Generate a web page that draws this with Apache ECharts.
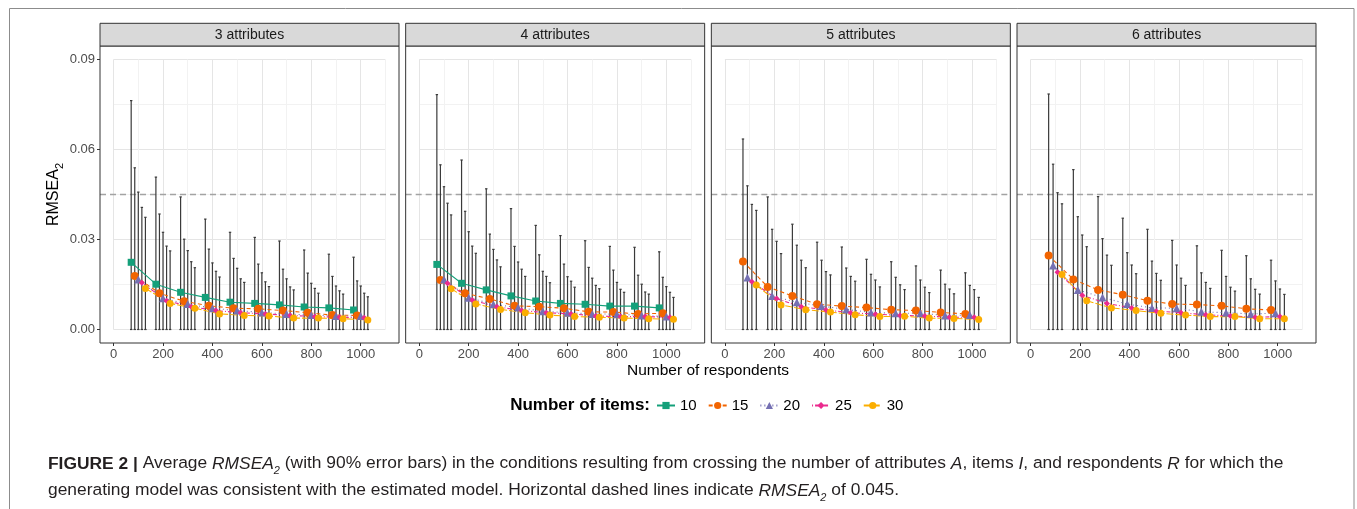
<!DOCTYPE html>
<html><head><meta charset="utf-8">
<script src="https://cdn.jsdelivr.net/npm/echarts@6/dist/echarts.min.js"></script>
<style>html,body{margin:0;padding:0;background:#fff}#c{width:1357px;height:509px}</style>
</head><body><div id="c"></div>
<script>
// ---------------- DATA ----------------
const panelTitles = ['3 attributes', '4 attributes', '5 attributes', '6 attributes'];
const respondents = [100, 200, 300, 400, 500, 600, 700, 800, 900, 1000];
const itemLevels = ['10', '15', '20', '25', '30'];
const xTickLabels = [0, 200, 400, 600, 800, 1000];
const yTickLabels = [0, 0.03, 0.06, 0.09];
const cutoffRMSEA = 0.045;
const lowerBound = 0;

const itemsA3 = ['10', '15', '20', '25', '30'];
const itemsA4 = ['10', '15', '20', '25', '30'];
const itemsA5 = ['15', '20', '25', '30'];
const itemsA6 = ['15', '20', '25', '30'];

// A = 3
const A3_I10_mean  = [0.0224, 0.0151, 0.0124, 0.0107, 0.0091, 0.0087, 0.0082, 0.0075, 0.0072, 0.0065];
const A3_I10_upper = [0.0763, 0.0508, 0.0442, 0.0368, 0.0324, 0.0307, 0.0295, 0.0265, 0.0251, 0.0241];
const A3_I15_mean  = [0.0178, 0.0121, 0.0094, 0.0079, 0.0071, 0.0069, 0.0063, 0.0056, 0.0048, 0.0047];
const A3_I15_upper = [0.0539, 0.0385, 0.0301, 0.0268, 0.0237, 0.0218, 0.0201, 0.0188, 0.0177, 0.0162];
const A3_I20_mean  = [0.0167, 0.0104, 0.0085, 0.0071, 0.0063, 0.0057, 0.0052, 0.0048, 0.0045, 0.0045];
const A3_I20_upper = [0.0458, 0.0324, 0.0263, 0.0222, 0.0204, 0.0189, 0.0169, 0.0154, 0.0145, 0.0145];
const A3_I25_mean  = [0.0156, 0.0096, 0.0076, 0.0063, 0.0056, 0.0052, 0.0047, 0.0043, 0.0041, 0.0039];
const A3_I25_upper = [0.0407, 0.0278, 0.0226, 0.0194, 0.0169, 0.0159, 0.0142, 0.0137, 0.0129, 0.0121];
const A3_I30_mean  = [0.0137, 0.0087, 0.0071, 0.0052, 0.0047, 0.0045, 0.0038, 0.0038, 0.0036, 0.0032];
const A3_I30_upper = [0.0374, 0.0262, 0.0206, 0.0175, 0.0157, 0.0143, 0.0132, 0.0121, 0.0118, 0.0109];

// A = 4
const A4_I10_mean  = [0.0217, 0.0154, 0.0132, 0.0112, 0.0095, 0.0087, 0.0084, 0.0078, 0.0078, 0.0072];
const A4_I10_upper = [0.0783, 0.0565, 0.0469, 0.0403, 0.0347, 0.0313, 0.0296, 0.0277, 0.0274, 0.0259];
const A4_I15_mean  = [0.0165, 0.0121, 0.0102, 0.0079, 0.0076, 0.0071, 0.0059, 0.0058, 0.0052, 0.0054];
const A4_I15_upper = [0.0549, 0.0394, 0.0318, 0.0277, 0.0249, 0.0218, 0.0207, 0.0198, 0.0181, 0.0174];
const A4_I20_mean  = [0.0167, 0.0106, 0.0084, 0.0073, 0.0061, 0.0056, 0.0052, 0.0051, 0.0047, 0.0043];
const A4_I20_upper = [0.0476, 0.0326, 0.0267, 0.0225, 0.0194, 0.0176, 0.0171, 0.0157, 0.0151, 0.0143];
const A4_I25_mean  = [0.0154, 0.0098, 0.0076, 0.0063, 0.0056, 0.0052, 0.0045, 0.0043, 0.0043, 0.0041];
const A4_I25_upper = [0.0421, 0.0278, 0.0232, 0.0201, 0.0177, 0.0161, 0.0147, 0.0134, 0.0125, 0.0124];
const A4_I30_mean  = [0.0136, 0.0085, 0.0067, 0.0056, 0.0048, 0.0043, 0.0041, 0.0038, 0.0036, 0.0034];
const A4_I30_upper = [0.0382, 0.0254, 0.0209, 0.0177, 0.0156, 0.0141, 0.0136, 0.0124, 0.0118, 0.0107];

// A = 5
const A5_I15_mean  = [0.0227, 0.0142, 0.0112, 0.0084, 0.0078, 0.0073, 0.0066, 0.0063, 0.0057, 0.0052];
const A5_I15_upper = [0.0635, 0.0442, 0.0351, 0.0291, 0.0275, 0.0234, 0.0226, 0.0212, 0.0198, 0.0189];
const A5_I20_mean  = [0.0173, 0.0112, 0.0091, 0.0078, 0.0067, 0.0057, 0.0054, 0.0054, 0.0047, 0.0048];
const A5_I20_upper = [0.0479, 0.0334, 0.0281, 0.0231, 0.0205, 0.0184, 0.0174, 0.0165, 0.0151, 0.0147];
const A5_I25_mean  = [0.0159, 0.0103, 0.0076, 0.0065, 0.0056, 0.0051, 0.0047, 0.0045, 0.0041, 0.0041];
const A5_I25_upper = [0.0417, 0.0294, 0.0231, 0.0193, 0.0177, 0.0165, 0.0149, 0.0141, 0.0135, 0.0133];
const A5_I30_mean  = [0.0148, 0.0082, 0.0066, 0.0058, 0.0049, 0.0043, 0.0044, 0.0038, 0.0037, 0.0033];
const A5_I30_upper = [0.0397, 0.0253, 0.0206, 0.0182, 0.0161, 0.0142, 0.0133, 0.0123, 0.0119, 0.0107];

// A = 6
const A6_I15_mean  = [0.0247, 0.0167, 0.0132, 0.0116, 0.0096, 0.0085, 0.0083, 0.0079, 0.0069, 0.0065];
const A6_I15_upper = [0.0785, 0.0533, 0.0443, 0.0371, 0.0334, 0.0297, 0.0279, 0.0264, 0.0246, 0.0231];
const A6_I20_mean  = [0.0213, 0.0132, 0.0107, 0.0085, 0.0072, 0.0071, 0.0059, 0.0056, 0.0052, 0.0054];
const A6_I20_upper = [0.0551, 0.0376, 0.0303, 0.0256, 0.0228, 0.0215, 0.0189, 0.0177, 0.0169, 0.0162];
const A6_I25_mean  = [0.0191, 0.0114, 0.0087, 0.0072, 0.0061, 0.0056, 0.0049, 0.0045, 0.0041, 0.0043];
const A6_I25_upper = [0.0456, 0.0315, 0.0248, 0.0215, 0.0187, 0.0171, 0.0157, 0.0141, 0.0134, 0.0135];
const A6_I30_mean  = [0.0183, 0.0096, 0.0072, 0.0063, 0.0054, 0.0048, 0.0043, 0.0043, 0.0036, 0.0036];
const A6_I30_upper = [0.0419, 0.0276, 0.0214, 0.0186, 0.0164, 0.0147, 0.0137, 0.0128, 0.0118, 0.0117];

// ---------------- STYLE ----------------
const itemColors  = {'10': '#14a07a', '15': '#f26400', '20': '#7570b3', '25': '#eb2a8e', '30': '#fbae00'};
const itemSymbols = {'10': 'rect', '15': 'circle', '20': 'triangle', '25': 'diamond', '30': 'circle'};
const itemSymSize = {'10': 7, '15': 8, '20': 8, '25': 6, '30': 7};
const itemDash    = {'10': 'solid', '15': [4, 3], '20': [1, 3], '25': [1, 2, 4, 2], '30': [7, 2]};

const panels = [
  {title: panelTitles[0], items: itemsA3, mean: [A3_I10_mean, A3_I15_mean, A3_I20_mean, A3_I25_mean, A3_I30_mean], upper: [A3_I10_upper, A3_I15_upper, A3_I20_upper, A3_I25_upper, A3_I30_upper]},
  {title: panelTitles[1], items: itemsA4, mean: [A4_I10_mean, A4_I15_mean, A4_I20_mean, A4_I25_mean, A4_I30_mean], upper: [A4_I10_upper, A4_I15_upper, A4_I20_upper, A4_I25_upper, A4_I30_upper]},
  {title: panelTitles[2], items: itemsA5, mean: [A5_I15_mean, A5_I20_mean, A5_I25_mean, A5_I30_mean], upper: [A5_I15_upper, A5_I20_upper, A5_I25_upper, A5_I30_upper]},
  {title: panelTitles[3], items: itemsA6, mean: [A6_I15_mean, A6_I20_mean, A6_I25_mean, A6_I30_mean], upper: [A6_I15_upper, A6_I20_upper, A6_I25_upper, A6_I30_upper]}
];

// layout (ggplot-like facets, 5% expansion)
const PANEL_LEFT0 = 100, PANEL_STEP = 305.67, PANEL_W = 299;
const PANEL_TOP = 46, PANEL_H = 297, STRIP_TOP = 23.3;
const X_MIN = 0, X_MAX = 1100, X_STEP = 100, X_EXP = 55;
const Y_MIN = 0, Y_MAX = 0.09, Y_STEP = 0.015, Y_EXP = 0.0045;
const DODGE = 72;
const pxX = PANEL_W / (X_MAX - X_MIN + 2 * X_EXP);
const pxY = PANEL_H / (Y_MAX - Y_MIN + 2 * Y_EXP);
const FONT = 'Liberation Sans, Arial, Helvetica, sans-serif';

const grids = [], xAxes = [], yAxes = [], series = [], graphics = [];

panels.forEach((p, pi) => {
  const pl = PANEL_LEFT0 + pi * PANEL_STEP;
  const gFull = 2 * pi, gInner = 2 * pi + 1;
  // full panel (expanded range): data, ticks, labels
  grids.push({left: pl, top: PANEL_TOP, width: PANEL_W, height: PANEL_H, containLabel: false});
  // inner range: grid lines only
  grids.push({left: pl + X_EXP * pxX, top: PANEL_TOP + Y_EXP * pxY,
              width: (X_MAX - X_MIN) * pxX, height: (Y_MAX - Y_MIN) * pxY, containLabel: false});

  xAxes.push({
    type: 'value', gridIndex: gFull, min: X_MIN - X_EXP, max: X_MAX + X_EXP, position: 'bottom',
    axisLine: {show: false, onZero: false},
    axisTick: {show: true, length: 3, customValues: xTickLabels, lineStyle: {color: '#333', width: 1}},
    axisLabel: {show: true, customValues: xTickLabels, margin: 5, color: '#4d4d4d', fontSize: 13, fontFamily: FONT,
                formatter: v => String(Math.round(v))},
    splitLine: {show: false}
  });
  xAxes.push({
    type: 'value', gridIndex: gInner, min: X_MIN, max: X_MAX, interval: X_STEP,
    axisLine: {show: false, onZero: false}, axisTick: {show: false}, axisLabel: {show: false},
    splitLine: {show: true, lineStyle: {color: ['#e5e5e5', '#f2f2f2'], width: 1}}
  });
  yAxes.push({
    type: 'value', gridIndex: gFull, min: Y_MIN - Y_EXP, max: Y_MAX + Y_EXP, position: 'left',
    axisLine: {show: false, onZero: false},
    axisTick: {show: pi === 0, length: 3, customValues: yTickLabels, lineStyle: {color: '#333', width: 1}},
    axisLabel: {show: pi === 0, customValues: yTickLabels, margin: 5, color: '#4d4d4d', fontSize: 13, fontFamily: FONT,
                formatter: v => v.toFixed(2)},
    splitLine: {show: false},
    name: pi === 0 ? '{n|RMSEA}{s|2}' : '',
    nameLocation: 'middle', nameGap: 33, nameRotate: 90,
    nameTextStyle: {color: '#000', fontFamily: FONT, fontSize: 16,
      rich: {n: {fontSize: 16, fontFamily: FONT, color: '#000', lineHeight: 18, verticalAlign: 'bottom'},
             s: {fontSize: 11, fontFamily: FONT, color: '#000', lineHeight: 18, verticalAlign: 'bottom', padding: [0, 0, -4, 0]}}}
  });
  yAxes.push({
    type: 'value', gridIndex: gInner, min: Y_MIN, max: Y_MAX, interval: Y_STEP,
    axisLine: {show: false, onZero: false}, axisTick: {show: false}, axisLabel: {show: false},
    splitLine: {show: true, lineStyle: {color: ['#e5e5e5', '#f2f2f2'], width: 1}}
  });

  // dashed reference line spanning the whole panel
  series.push({
    type: 'line', name: 'cutoff', xAxisIndex: gFull, yAxisIndex: gFull, silent: true,
    symbol: 'none', z: 1,
    data: [[X_MIN - X_EXP, cutoffRMSEA], [X_MAX + X_EXP, cutoffRMSEA]],
    lineStyle: {color: '#a3a3a3', width: 1.5, type: [6, 4]}
  });

  const n = p.items.length;
  p.items.forEach((it, k) => {
    const off = (k - (n - 1) / 2) * (DODGE / n);
    const eb = respondents.map((r, j) => [r + off, lowerBound, p.upper[k][j]]);
    series.push({
      type: 'custom', name: 'eb' + it, xAxisIndex: gFull, yAxisIndex: gFull, z: 2, silent: true,
      data: eb,
      renderItem: (params, api) => {
        const x = api.value(0), lo = api.value(1), hi = api.value(2);
        const a = api.coord([x, hi]), b = api.coord([x, lo]);
        const hw = 1.2;
        const st = {stroke: '#3a3a3a', lineWidth: 1.2};
        return {type: 'group', children: [
          {type: 'line', shape: {x1: a[0], y1: a[1], x2: b[0], y2: b[1]}, style: st},
          {type: 'line', shape: {x1: a[0] - hw, y1: a[1], x2: a[0] + hw, y2: a[1]}, style: st},
          {type: 'line', shape: {x1: b[0] - hw, y1: b[1], x2: b[0] + hw, y2: b[1]}, style: st}
        ]};
      }
    });
  });
  p.items.forEach((it, k) => {
    const off = (k - (n - 1) / 2) * (DODGE / n);
    series.push({
      type: 'line', name: it, xAxisIndex: gFull, yAxisIndex: gFull, z: 3,
      data: respondents.map((r, j) => [r + off, p.mean[k][j]]),
      symbol: itemSymbols[it], symbolSize: itemSymSize[it],
      itemStyle: {color: itemColors[it]},
      lineStyle: {color: itemColors[it], width: 1.1, type: itemDash[it]},
      emphasis: {disabled: true}, animation: false
    });
  });

  // panel border
  graphics.push({type: 'rect', shape: {x: pl, y: PANEL_TOP, width: PANEL_W, height: PANEL_H},
    style: {fill: 'none', stroke: '#333', lineWidth: 1}, z: 100, silent: true});
  // strip
  graphics.push({type: 'rect', shape: {x: pl, y: STRIP_TOP, width: PANEL_W, height: PANEL_TOP - STRIP_TOP},
    style: {fill: '#d9d9d9', stroke: '#333', lineWidth: 1}, z: 100, silent: true});
  graphics.push({type: 'text', x: pl + PANEL_W / 2, y: (STRIP_TOP + PANEL_TOP) / 2 + 0.5, z: 101, silent: true,
    style: {text: p.title, fill: '#1a1a1a', font: '14px ' + FONT, textAlign: 'center', textVerticalAlign: 'middle'}});
});

// outer frame
graphics.push({type: 'rect', shape: {x: 9.5, y: 8.5, width: 1344.5, height: 540},
  style: {fill: 'none', stroke: '#8c8c8c', lineWidth: 1}, z: 0, silent: true});
// x axis title
graphics.push({type: 'text', x: PANEL_LEFT0 + (3 * PANEL_STEP + PANEL_W) / 2, y: 371, z: 10,
  style: {text: 'Number of respondents', fill: '#000', font: '15.5px ' + FONT, textAlign: 'center', textVerticalAlign: 'middle'}});
// legend title
graphics.push({type: 'text', x: 650, y: 405, z: 10,
  style: {text: 'Number of items:', fill: '#000', font: 'bold 17px ' + FONT, textAlign: 'right', textVerticalAlign: 'middle'}});
// caption
const CAP = 17.4;
const capRich = {
  b: {fontWeight: 'bold', fontSize: CAP, fontFamily: FONT, fill: '#231f20', lineHeight: 20, verticalAlign: 'bottom'},
  i: {fontStyle: 'italic', fontSize: CAP, fontFamily: FONT, fill: '#231f20', lineHeight: 20, verticalAlign: 'bottom'},
  is: {fontStyle: 'italic', fontSize: 11, fontFamily: FONT, fill: '#231f20', lineHeight: 20, verticalAlign: 'bottom', padding: [0, 0, -3, 0]}
};
graphics.push({type: 'text', x: 48, y: 463, z: 10,
  style: {
    text: '{b|FIGURE 2 |} Average {i|RMSEA}{is|2} (with 90% error bars) in the conditions resulting from crossing the number of attributes {i|A}, items {i|I}, and respondents {i|R} for which the',
    fill: '#231f20', font: CAP + 'px ' + FONT, textVerticalAlign: 'middle', rich: capRich
  }});
graphics.push({type: 'text', x: 48, y: 490, z: 10,
  style: {
    text: 'generating model was consistent with the estimated model. Horizontal dashed lines indicate {i|RMSEA}{is|2} of 0.045.',
    fill: '#231f20', font: CAP + 'px ' + FONT, textVerticalAlign: 'middle', rich: capRich
  }});

const chart = echarts.init(document.getElementById('c'), null, {renderer: 'canvas'});
chart.setOption({
  animation: false,
  backgroundColor: '#fff',
  grid: grids, xAxis: xAxes, yAxis: yAxes, series: series,
  legend: {
    data: itemLevels, left: 651, top: 393, orient: 'horizontal',
    itemWidth: 18, itemHeight: 9, itemGap: 11,
    textStyle: {color: '#000', fontSize: 15, fontFamily: FONT, padding: [0, 0, 0, 0]},
    selectedMode: false
  },
  graphic: graphics
});
</script></body></html>
